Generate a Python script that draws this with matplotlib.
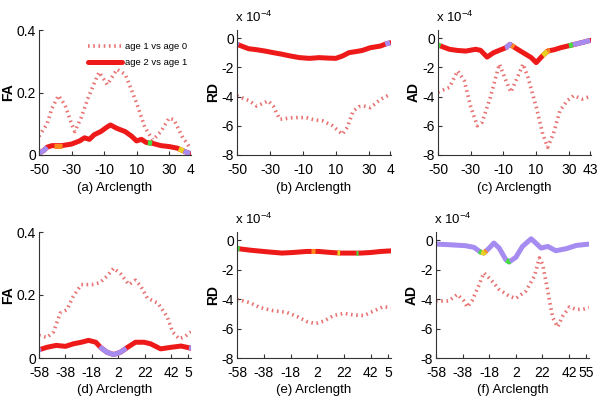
import numpy as np
import matplotlib
matplotlib.use("Agg")
import matplotlib.pyplot as plt

plt.rcParams['font.family'] = ['Liberation Sans', 'DejaVu Sans']
plt.rcParams['axes.unicode_minus'] = False
plt.rcParams['mathtext.fontset'] = 'custom'
plt.rcParams['mathtext.rm'] = 'Liberation Sans'

# ---- data ----
# (a) FA, top row
a_dot_x = [-50, -45, -42, -38, -34, -30, -28, -24, -20, -16, -13, -8, -5, -2, 3, 6, 10, 15, 20, 25, 30, 33, 38, 43]
a_dot_y = [0.06, 0.10, 0.15, 0.19, 0.16, 0.10, 0.075, 0.12, 0.18, 0.23, 0.265, 0.225, 0.25, 0.274, 0.258, 0.22, 0.167, 0.09, 0.048, 0.075, 0.118, 0.113, 0.06, 0.022]
a_sol_x = [-50, -47, -45, -42, -36, -30, -25, -22, -19, -16, -12, -8, -6, -2, 3, 7, 10, 13, 16, 20, 25, 30, 35, 38, 41, 43]
a_sol_y = [0.005, 0.015, 0.025, 0.03, 0.03, 0.035, 0.045, 0.055, 0.05, 0.065, 0.075, 0.09, 0.096, 0.085, 0.075, 0.06, 0.045, 0.05, 0.04, 0.037, 0.03, 0.027, 0.022, 0.015, 0.008, 0.005]

# (b) RD, x 1e-4
b_dot_x = [-50, -43, -38, -34, -31, -28, -24, -20, -16, -8, -3, 2, 8, 14, 17, 20.5, 24, 27, 31, 37, 43]
b_dot_y = [-3.96, -4.26, -4.65, -4.45, -4.3, -4.65, -5.56, -5.5, -5.44, -5.44, -5.6, -5.67, -6.0, -6.58, -6.1, -5.0, -4.7, -4.65, -4.76, -4.2, -3.85]
b_sol_x = [-50, -43, -38, -33, -28, -23, -18, -12, -6, 0, 5, 10, 14, 18, 22, 26, 31, 37, 40, 43]
b_sol_y = [-0.43, -0.73, -0.8, -0.89, -1.0, -1.1, -1.22, -1.34, -1.39, -1.34, -1.37, -1.39, -1.23, -1.0, -0.93, -0.85, -0.66, -0.55, -0.42, -0.32]

# (c) AD, x 1e-4
c_dot_x = [-50, -43, -38, -34, -30, -26, -23, -18, -12.5, -8.5, -5.5, -1, 2, 5, 10, 14, 17, 20.5, 24.5, 29, 33, 38, 43]
c_dot_y = [-3.7, -3.37, -2.25, -2.9, -4.7, -6.0, -5.76, -4.05, -1.78, -2.9, -3.7, -2.57, -1.78, -2.7, -4.7, -6.56, -7.47, -6.56, -4.97, -4.28, -3.94, -4.17, -4.0]
c_sol_x = [-50, -43, -38, -33, -27, -24, -20, -16, -12.5, -8.5, -6, -3, 2, 7, 10, 14, 17, 21, 25, 31, 35, 39, 43]
c_sol_y = [-0.48, -0.77, -0.85, -0.89, -0.77, -0.84, -1.3, -1.0, -0.84, -0.66, -0.43, -0.66, -1.0, -1.34, -1.68, -1.2, -0.89, -0.8, -0.66, -0.5, -0.39, -0.28, -0.16]

# (d) FA, bottom row
d_dot_x = [-58, -52, -47, -42, -37, -32, -26, -18, -12, -6.5, -1.5, 4, 10, 15, 19, 24, 32, 39, 43, 48, 52, 57]
d_dot_y = [0.072, 0.065, 0.083, 0.142, 0.153, 0.196, 0.233, 0.233, 0.239, 0.26, 0.285, 0.266, 0.233, 0.247, 0.228, 0.19, 0.174, 0.131, 0.083, 0.061, 0.067, 0.083]
d_sol_x = [-58, -52, -45, -38, -32, -26, -20.5, -15, -11.5, -6.5, -1.5, 3.5, 9, 15, 21.5, 26.5, 34, 42, 49.5, 57]
d_sol_y = [0.026, 0.034, 0.04, 0.037, 0.045, 0.05, 0.056, 0.05, 0.034, 0.018, 0.011, 0.018, 0.034, 0.05, 0.05, 0.045, 0.029, 0.034, 0.038, 0.031]

# (e) RD, x 1e-4
e_dot_x = [-58, -48.5, -41, -31, -21, -13, -6, 0.5, 7, 14, 22, 29, 37, 44.5, 51, 57]
e_dot_y = [-4.02, -4.24, -4.57, -4.79, -4.9, -5.19, -5.52, -5.67, -5.49, -5.12, -4.97, -5.08, -5.12, -4.79, -4.53, -4.57]
e_sol_x = [-58, -48.5, -36, -24.5, -16, -6, 3, 12, 19.5, 27, 34.5, 42, 49.5, 57]
e_sol_y = [-0.57, -0.68, -0.79, -0.88, -0.84, -0.77, -0.77, -0.84, -0.88, -0.88, -0.88, -0.84, -0.77, -0.73]

# (f) AD, x 1e-4
f_dot_x = [-58, -48.5, -42, -37, -34.5, -31, -26, -22, -17, -10.5, -3, 2, 9.5, 16, 19.7, 22.2, 26, 29.7, 33.5, 37.3, 42.3, 47.3, 52.4, 57]
f_dot_y = [-4.13, -4.13, -3.69, -4.13, -4.54, -4.13, -3.12, -2.22, -2.67, -3.35, -3.8, -3.96, -3.46, -2.45, -1.21, -1.66, -3.46, -5.26, -5.89, -5.15, -4.54, -4.7, -4.7, -4.58]
f_sol_x = [-58, -48.5, -36, -29.5, -24.5, -22, -18, -14.5, -10.5, -5.5, -3, 2, 7, 13.5, 17, 21, 26, 32, 40, 47.5, 57]
f_sol_y = [-0.27, -0.31, -0.38, -0.49, -0.81, -0.88, -0.54, -0.2, -0.54, -1.33, -1.48, -1.17, -0.43, 0.09, -0.2, -0.54, -0.43, -0.72, -0.58, -0.36, -0.27]

# coloured stretches of the solid curve: (x from, x to, level)
a_marks = [(-50, -45, 1), (-41, -36, 2), (17, 19.5, 3), (36, 39, 4), (39, 43, 1)]
b_marks = [(-50, -49, 1), (40, 43, 1)]
c_marks = [(-50, -48.5, 3), (-9, -5, 1), (-5, -3.5, 2), (14, 17, 4), (17, 18.5, 2), (30, 32.5, 3), (32.5, 43, 1)]
d_marks = [(-58, -56.5, 1), (-12, 8, 1), (55.5, 57, 1)]
e_marks = [(-58, -56, 3), (-3, 0, 2), (17, 19, 4), (30.5, 32.5, 3)]
f_marks = [(-25.5, -24, 3), (-24, -21, 4), (-21, -20, 2), (-5, -2.5, 3)]

top_ticks = [-50, -30, -10, 10, 30, 43]
bot_ticks = [-58, -38, -18, 2, 22, 42, 55]

RED = '#ee1a1a'
DOT = '#e25050'
LEVEL_COLORS = {1: '#a68cf0', 2: '#ff8a1e', 3: '#44dd44', 4: '#e8d020'}

fig = plt.figure(figsize=(6.0, 4.04), dpi=100)
W, H = 600.0, 404.0


def make_ax(l, r, t, b):
    ax = fig.add_axes([l / W, 1 - b / H, (r - l) / W, (b - t) / H])
    for s in ('top', 'right'):
        ax.spines[s].set_visible(False)
    for s in ('left', 'bottom'):
        ax.spines[s].set_color('#333333')
        ax.spines[s].set_linewidth(0.8)
    ax.tick_params(direction='in', length=3, labelsize=10, pad=2, color='#333333')
    ax.tick_params(axis='x', pad=6)
    return ax


def draw(ax, dx, dy, sx, sy, marks, base=RED):
    ln_dot, = ax.plot(dx, dy, color=DOT, lw=2.6, linestyle=(0, (0.45, 1.0)),
                      dash_capstyle='butt', alpha=0.8)
    ln_sol, = ax.plot(sx, sy, color=base, lw=3.6, solid_capstyle='round')
    sx = np.asarray(sx, float)
    sy = np.asarray(sy, float)
    for x0, x1, lev in marks:
        inside = (sx > x0) & (sx < x1)
        xs = np.concatenate([[x0], sx[inside], [x1]])
        ys = np.interp(xs, sx, sy)
        ax.plot(xs, ys, color=LEVEL_COLORS[lev], lw=3.6, solid_capstyle='butt')
    return ln_dot, ln_sol


panels = [
    # label, ylabel, data, marks, box(l, r, t, b), ticks, last label, base colour
    ('(a) Arclength', 'FA', (a_dot_x, a_dot_y, a_sol_x, a_sol_y), a_marks, (39, 191, 30, 155), top_ticks, '4', RED),
    ('(b) Arclength', 'RD', (b_dot_x, b_dot_y, b_sol_x, b_sol_y), b_marks, (237, 391, 30, 155), top_ticks, '4', RED),
    ('(c) Arclength', 'AD', (c_dot_x, c_dot_y, c_sol_x, c_sol_y), c_marks, (438, 591, 30, 155), top_ticks, '43', RED),
    ('(d) Arclength', 'FA', (d_dot_x, d_dot_y, d_sol_x, d_sol_y), d_marks, (39, 191, 232, 358), bot_ticks, '5', RED),
    ('(e) Arclength', 'RD', (e_dot_x, e_dot_y, e_sol_x, e_sol_y), e_marks, (237, 391, 232, 358), bot_ticks, '5', RED),
    ('(f) Arclength', 'AD', (f_dot_x, f_dot_y, f_sol_x, f_sol_y), f_marks, (436, 589, 232, 358), bot_ticks, '55', LEVEL_COLORS[1]),
]

for i, (xl, yl, data, marks, box, ticks, last, base) in enumerate(panels):
    ax = make_ax(*box)
    h = draw(ax, *data, marks, base=base)
    ax.set_xlim(ticks[0], 43.5 if ticks is top_ticks else 57)
    ax.set_xticks(ticks)
    ax.set_xticklabels([str(t) for t in ticks[:-1]] + [last])
    ax.set_xlabel(xl, fontsize=9.5, labelpad=3)
    ax.set_ylabel(yl, fontsize=10, fontweight='bold', labelpad=1.5)
    if yl == 'FA':
        ax.set_ylim(0, 0.4)
        ax.set_yticks([0, 0.2, 0.4])
        ax.set_yticklabels(['0', '0.2', '0.4'])
    else:
        ax.set_ylim(-8, 0.55)
        ax.set_yticks([-8, -6, -4, -2, 0])
        ax.text(-0.01, 1.04, r'x 10$^{\mathdefault{-4}}$', transform=ax.transAxes,
                fontsize=9.5, ha='left', va='bottom')
    if i == 0:
        ax.legend(h, ['age 1 vs age 0', 'age 2 vs age 1'], loc='upper right',
                  bbox_to_anchor=(1.03, 0.97), frameon=False, fontsize=6.8,
                  handlelength=3.6, handletextpad=0.3, labelspacing=0.7)

fig.savefig('out.png', dpi=100)
